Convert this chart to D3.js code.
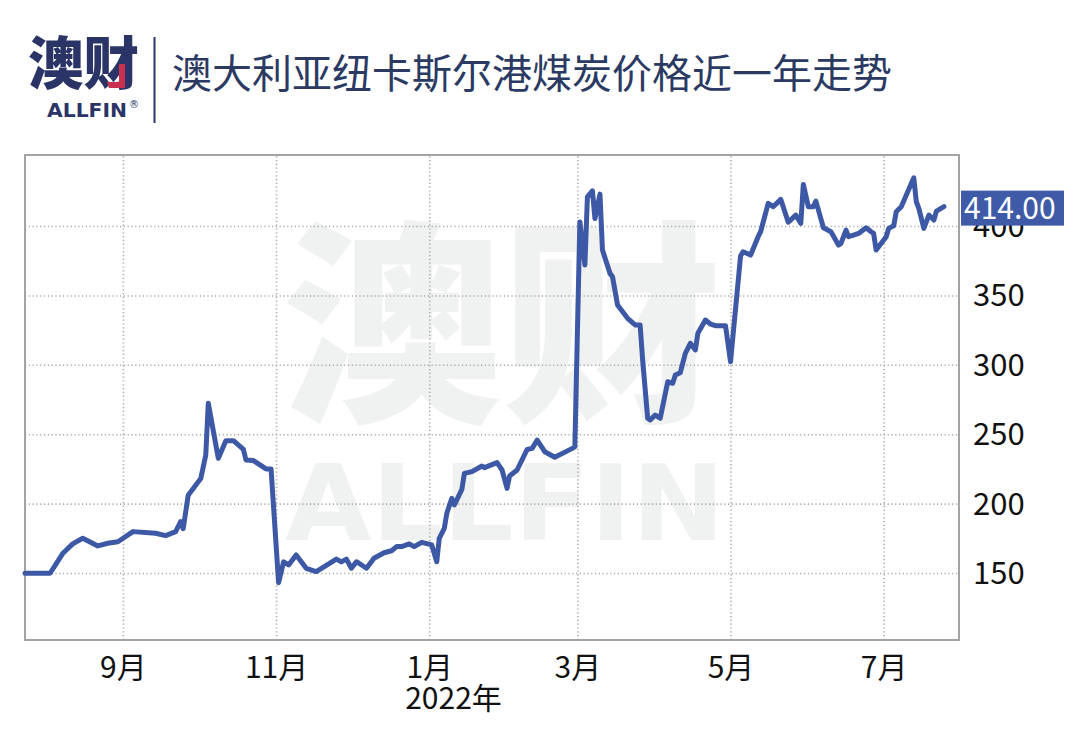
<!DOCTYPE html>
<html>
<head>
<meta charset="utf-8">
<script src="https://cdn.jsdelivr.net/npm/d3@7"></script>
<style>
  html, body { margin: 0; padding: 0; background: #ffffff; }
  svg { display: block; }
</style>
</head>
<body>
<svg id="chart" width="1080" height="732"></svg>
<script>
// ---------- data ----------
const dates = [
  "2021-07-24","2021-08-03","2021-08-08","2021-08-12","2021-08-16","2021-08-22","2021-08-26","2021-08-30",
  "2021-09-05","2021-09-14","2021-09-18","2021-09-22","2021-09-24","2021-09-25","2021-09-27",
  "2021-10-02","2021-10-04","2021-10-05","2021-10-09","2021-10-12","2021-10-15","2021-10-19","2021-10-20",
  "2021-10-23","2021-10-28","2021-10-30",
  "2021-11-02","2021-11-04","2021-11-06","2021-11-09","2021-11-13","2021-11-17","2021-11-25","2021-11-27","2021-11-29",
  "2021-12-01","2021-12-03","2021-12-04","2021-12-07","2021-12-10","2021-12-14","2021-12-17","2021-12-19",
  "2021-12-21","2021-12-24","2021-12-26","2021-12-29",
  "2022-01-02","2022-01-04","2022-01-05","2022-01-07","2022-01-08","2022-01-10","2022-01-11","2022-01-14",
  "2022-01-15","2022-01-18","2022-01-22","2022-01-23","2022-01-28","2022-01-30",
  "2022-02-01","2022-02-02","2022-02-05","2022-02-09","2022-02-11","2022-02-13","2022-02-16","2022-02-20",
  "2022-02-27","2022-02-28",
  "2022-03-02","2022-03-04","2022-03-05","2022-03-07","2022-03-08","2022-03-10","2022-03-11","2022-03-14",
  "2022-03-15","2022-03-17","2022-03-21","2022-03-24","2022-03-26","2022-03-27","2022-03-29","2022-03-30",
  "2022-04-01","2022-04-03","2022-04-06","2022-04-08","2022-04-09","2022-04-11","2022-04-13","2022-04-15",
  "2022-04-17","2022-04-18","2022-04-21","2022-04-23","2022-04-25","2022-04-29",
  "2022-05-01","2022-05-05","2022-05-06","2022-05-09","2022-05-12","2022-05-13","2022-05-16","2022-05-18",
  "2022-05-21","2022-05-24","2022-05-27","2022-05-29","2022-05-30",
  "2022-06-01","2022-06-03","2022-06-04","2022-06-07","2022-06-10","2022-06-13","2022-06-14","2022-06-16",
  "2022-06-17","2022-06-19","2022-06-21","2022-06-24","2022-06-26","2022-06-27","2022-06-28",
  "2022-07-02","2022-07-03","2022-07-05","2022-07-06","2022-07-08","2022-07-13","2022-07-14","2022-07-15",
  "2022-07-17","2022-07-19","2022-07-21","2022-07-22","2022-07-25"
];
const prices = [
  149.8,149.8,164,171,175,169.5,171.4,172.5,
  179.8,178.6,176.9,179.8,187,182,206,
  218,235,272.3,232.6,245.3,245.3,239,231.4,
  231,225,225,
  143,158,155.8,163,153.4,151,160,158,160,
  153.4,158.1,157,153.4,160.6,164.6,166,169,
  169,171,169,172.1,
  170.2,158.1,175,182.2,193,203.8,199,210.3,
  221.8,223,227.1,225.9,229.5,224.2,
  211,219.9,224.2,239,239.8,245.8,237.4,233.4,
  239.8,241,
  403,372,421.1,425.4,405.5,423,382.7,365.9,
  363.5,343.1,333.5,328.7,328.7,303.5,261.5,260.2,
  263.8,261.5,287.8,286.7,292.6,294.3,308.3,315.5,
  310.7,322.7,332.3,329.4,328.2,328.2,
  302.2,378.4,381.5,379.1,392.3,395.9,416.4,413.9,
  419.2,402.7,407.9,401.9,430,
  413.9,413.9,418,398.8,395.9,386.3,387.5,397.1,
  392.3,393.5,394.7,398.8,395.9,394.7,382.7,
  392.3,398.3,400.2,410.3,413.9,434.8,417.5,412.8,
  398.3,407.9,404.3,410.8,414
];
const xTickDates = ["2021-09-01","2021-11-01","2022-01-01","2022-03-01","2022-05-01","2022-07-01"];
const xTickLabels = ["9月","11月","1月","3月","5月","7月"];
const yearLabel = "2022年";
const yTicks = [150, 200, 250, 300, 350, 400];
const xDomain = ["2021-07-24", "2022-07-31"];
const yDomain = [101.7, 451.2];
const titleText = "澳大利亚纽卡斯尔港煤炭价格近一年走势";

// ---------- setup ----------
const parse = d3.timeParse("%Y-%m-%d");
const data = dates.map((d, i) => ({ date: parse(d), value: prices[i] }));

const svg = d3.select("#chart");
const W = 1080, H = 732;
const plot = { left: 25, right: 959, top: 155, bottom: 640 };
const navy = "#2a3466";
const lineColor = "#3d59a6";
const cjk = "'Noto Sans CJK SC', 'Noto Sans', sans-serif";

svg.append("rect").attr("width", W).attr("height", H).attr("fill", "#fff");

const x = d3.scaleTime().domain(xDomain.map(parse)).range([plot.left, plot.right]);
const y = d3.scaleLinear().domain(yDomain).range([plot.bottom, plot.top]);

// ---------- header ----------
const logo = svg.append("g");
logo.append("text")
  .attr("x", 28).attr("y", 84)
  .attr("font-family", cjk).attr("font-weight", 900).attr("font-size", 57)
  .attr("fill", navy)
  .attr("textLength", 111).attr("lengthAdjust", "spacingAndGlyphs")
  .text("澳财");
logo.append("path")
  .attr("d", "M119,64 L125,64 L125,88 L109,88 L107,82 L119,82 Z")
  .attr("fill", "#c8314d");
logo.append("text")
  .attr("x", 47).attr("y", 117)
  .attr("font-family", "'DejaVu Sans', sans-serif").attr("font-weight", "bold").attr("font-size", 19)
  .attr("fill", navy)
  .attr("textLength", 80).attr("lengthAdjust", "spacingAndGlyphs")
  .text("ALLFIN");
logo.append("text")
  .attr("x", 129).attr("y", 108)
  .attr("font-family", "'DejaVu Sans', sans-serif").attr("font-size", 10)
  .attr("fill", navy)
  .text("®");
svg.append("line")
  .attr("x1", 154.5).attr("x2", 154.5).attr("y1", 37).attr("y2", 123)
  .attr("stroke", navy).attr("stroke-width", 2);
svg.append("text")
  .attr("x", 172).attr("y", 88)
  .attr("font-family", cjk).attr("font-size", 40)
  .attr("fill", "#2b3a62")
  .text(titleText);

// ---------- watermark ----------
const wm = svg.append("g").attr("fill", "#f0f1f1");
wm.append("text")
  .attr("x", 282).attr("y", 405)
  .attr("font-family", cjk).attr("font-weight", 900).attr("font-size", 216)
  .attr("textLength", 440).attr("lengthAdjust", "spacingAndGlyphs")
  .text("澳财");
wm.append("text")
  .attr("x", 285).attr("y", 540)
  .attr("font-family", "'DejaVu Sans', sans-serif").attr("font-weight", "bold").attr("font-size", 105)
  .attr("textLength", 440).attr("lengthAdjust", "spacingAndGlyphs")
  .text("ALLFIN");

// ---------- grid ----------
const gridStyle = g => g.selectAll("line")
  .attr("stroke", "#a8a8a8").attr("stroke-width", 1.6).attr("stroke-dasharray", "1.2,2.6");

svg.append("g")
  .attr("transform", `translate(0,${plot.bottom})`)
  .call(d3.axisBottom(x).tickValues(xTickDates.map(parse)).tickSize(-(plot.bottom - plot.top)).tickFormat(""))
  .call(g => g.select(".domain").remove())
  .call(gridStyle);

svg.append("g")
  .attr("transform", `translate(${plot.left},0)`)
  .call(d3.axisRight(y).tickValues(yTicks).tickSize(plot.right - plot.left).tickFormat(""))
  .call(g => g.select(".domain").remove())
  .call(gridStyle);

// ---------- frame ----------
svg.append("rect")
  .attr("x", plot.left).attr("y", plot.top)
  .attr("width", plot.right - plot.left).attr("height", plot.bottom - plot.top)
  .attr("fill", "none").attr("stroke", "#a3a3a3").attr("stroke-width", 2);

// ---------- line ----------
const line = d3.line().x(d => x(d.date)).y(d => y(d.value));
svg.append("path")
  .datum(data)
  .attr("d", line)
  .attr("fill", "none")
  .attr("stroke", lineColor)
  .attr("stroke-width", 5)
  .attr("stroke-linejoin", "round")
  .attr("stroke-linecap", "round");

// ---------- axes ----------
const xAxis = svg.append("g")
  .attr("transform", `translate(0,${plot.bottom})`)
  .call(d3.axisBottom(x).tickValues(xTickDates.map(parse)).tickSize(0).tickPadding(0)
    .tickFormat((d, i) => xTickLabels[i]))
  .call(g => g.select(".domain").remove());
xAxis.selectAll("text")
  .attr("y", 38).attr("dy", null)
  .attr("font-family", cjk).attr("font-size", 30).attr("fill", "#111");

const janX = x(parse(xTickDates[2]));
svg.append("text")
  .attr("x", janX - 24).attr("y", 709)
  .attr("font-family", cjk).attr("font-size", 30).attr("fill", "#111")
  .text(yearLabel);

const yAxis = svg.append("g")
  .attr("transform", `translate(${plot.right},0)`)
  .call(d3.axisRight(y).tickValues(yTicks).tickSize(0).tickPadding(14))
  .call(g => g.select(".domain").remove());
yAxis.selectAll("text")
  .attr("font-family", cjk).attr("font-size", 31).attr("fill", "#111")
  .attr("dy", "0.34em");

// ---------- last value label ----------
const last = data[data.length - 1];
const ly = y(last.value);
svg.append("rect")
  .attr("x", 961).attr("y", ly - 16).attr("width", 103).attr("height", 35)
  .attr("fill", "#3f5ba8");
svg.append("text")
  .attr("x", 964).attr("y", ly + 2).attr("dy", "0.35em")
  .attr("font-family", cjk).attr("font-size", 30).attr("fill", "#fff")
  .text(last.value.toFixed(2));
</script>
</body>
</html>
